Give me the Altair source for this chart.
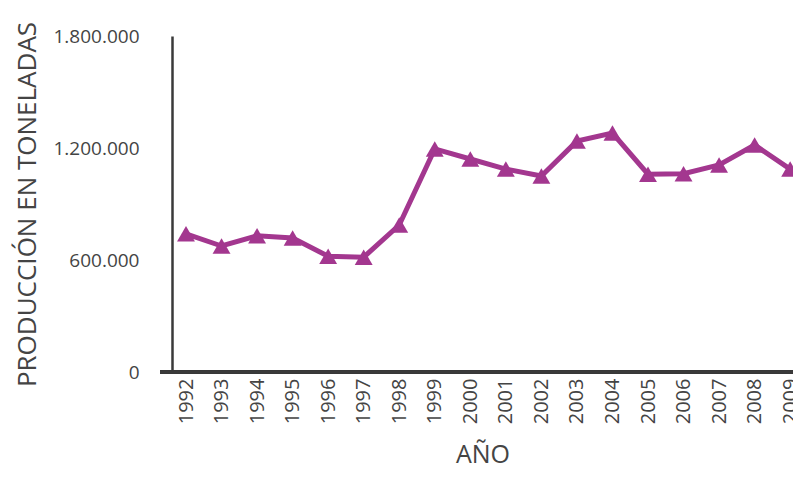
import altair as alt
import pandas as pd

years = list(range(1992, 2010))
production = [740000, 675000, 730000, 718000, 620000, 615000, 787000, 1195000, 1141000,
              1087000, 1050000, 1237000, 1280000, 1060000, 1062000, 1109000, 1216000, 1087000]

df = pd.DataFrame({"year": years, "prod": production})

W, H = 621, 336
color = "#A3378F"
font = "Open Sans"

x_enc = alt.X("year:Q",
              scale=alt.Scale(domain=[1991.606, 2009.08], nice=False, zero=False),
              axis=alt.Axis(values=years, format="d", labelAngle=-90, title="AÑO",
                            tickSize=0, labelPadding=6, domain=False, grid=False,
                            labelOverlap=False, labelFlush=False, labelBound=False,
                            labelFont=font, labelFontSize=20, labelColor="#444",
                            titleFont=font, titleFontSize=25, titleFontWeight="normal",
                            titleColor="#444", titlePadding=19))
y_enc = alt.Y("prod:Q",
              scale=alt.Scale(domain=[0, 1800000], nice=False),
              axis=alt.Axis(values=[0, 600000, 1200000, 1800000],
                            labelExpr="replace(format(datum.value, ','), regexp(',', 'g'), '.')",
                            title="PRODUCCIÓN EN TONELADAS", ticks=False, labelPadding=33,
                            grid=False, domainColor="#3a3a3a", domainWidth=2.5,
                            labelFont=font, labelFontSize=19, labelColor="#444",
                            labelFlush=False, labelOverlap=False,
                            titleFont=font, titleFontSize=26, titleFontWeight="normal",
                            titleColor="#444", titlePadding=12))

base = alt.Chart(df).encode(x=x_enc, y=y_enc)

line = base.mark_line(color=color, strokeWidth=5)
pts = base.mark_point(shape="triangle-up", filled=True, color=color, size=320, opacity=1)

xaxis_line = alt.Chart(df).mark_rule(color="#3a3a3a", strokeWidth=2.5).encode(
    x=alt.value(-12), x2=alt.value(W + 20), y=alt.value(H)
)

chart = alt.layer(line, pts, xaxis_line).properties(
    width=W, height=H,
    autosize=alt.AutoSizeParams(type="none"),
    padding={"left": 164, "top": 28, "right": 0, "bottom": 97},
).configure_view(stroke=None)

chart.save("out.html", embed_options={"renderer": "svg", "actions": False})
